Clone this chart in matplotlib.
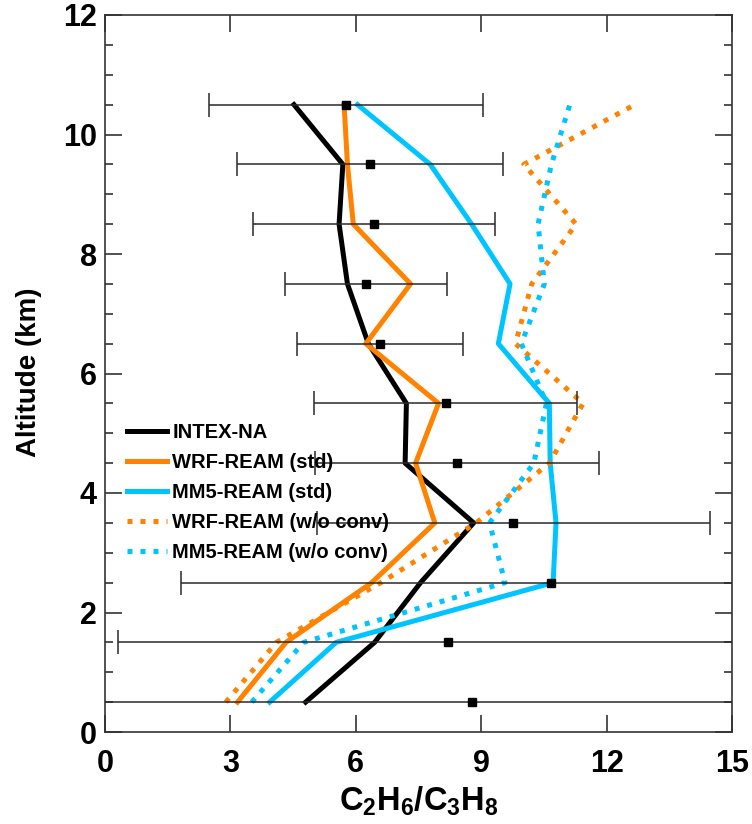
import matplotlib
matplotlib.use("Agg")
import matplotlib.pyplot as plt
from matplotlib.ticker import MultipleLocator

plt.rcParams["font.family"] = ["Liberation Sans", "DejaVu Sans"]
plt.rcParams["font.weight"] = "bold"
plt.rcParams["mathtext.fontset"] = "custom"
plt.rcParams["mathtext.rm"] = "Liberation Sans:bold"
plt.rcParams["mathtext.it"] = "Liberation Sans:bold"
plt.rcParams["mathtext.bf"] = "Liberation Sans:bold"

# altitude bins (km)
altitude = [0.5, 1.5, 2.5, 3.5, 4.5, 5.5, 6.5, 7.5, 8.5, 9.5, 10.5]

# C2H6/C3H8 ratio profiles
intex_na = [4.80, 6.45, 7.55, 8.82, 7.18, 7.21, 6.30, 5.80, 5.60, 5.69, 4.52]
wrf_std = [3.17, 4.33, 6.38, 7.89, 7.43, 7.98, 6.24, 7.31, 5.94, 5.80, 5.72]
mm5_std = [3.94, 5.53, 10.72, 10.79, 10.65, 10.63, 9.41, 9.69, 8.77, 7.78, 6.04]
wrf_noconv = [2.89, 4.10, 6.60, 8.88, 10.63, 11.44, 9.82, 10.21, 11.27, 10.02, 12.68]
mm5_noconv = [3.51, 4.75, 9.57, 9.20, 10.26, 10.56, 9.96, 10.51, 10.36, 10.68, 11.12]

# observed means with spread
obs_mean = [8.79, 8.21, 10.67, 9.77, 8.42, 8.15, 6.58, 6.24, 6.44, 6.34, 5.77]
obs_err = [9.50, 7.90, 8.84, 4.70, 3.40, 3.15, 1.99, 1.93, 2.90, 3.19, 3.28]

ORANGE = "#ff8200"
CYAN = "#00c4ff"
LW = 3.6
DOT = (0, (1, 1.6))

fig = plt.figure(figsize=(7.52, 8.24), dpi=100)
ax = fig.add_axes([105 / 752, 92 / 824, 627 / 752, 717 / 824])

ax.plot(intex_na, altitude, color="black", lw=LW, label="INTEX-NA", zorder=4)
ax.plot(wrf_std, altitude, color=ORANGE, lw=LW, label="WRF-REAM (std)", zorder=4)
ax.plot(mm5_std, altitude, color=CYAN, lw=LW, label="MM5-REAM (std)", zorder=4)
ax.plot(wrf_noconv, altitude, color=ORANGE, lw=LW, ls=DOT, dash_capstyle="butt",
        label="WRF-REAM (w/o conv)", zorder=4)
ax.plot(mm5_noconv, altitude, color=CYAN, lw=LW, ls=DOT, dash_capstyle="butt",
        label="MM5-REAM (w/o conv)", zorder=4)

ax.errorbar(obs_mean, altitude, xerr=obs_err, fmt="s", color="black", ms=6,
            ecolor="#2a2a2a", elinewidth=1.1, capsize=8.6, capthick=1.1, zorder=5)

ax.set_xlim(0, 15)
ax.set_ylim(0, 12)
ax.xaxis.set_major_locator(MultipleLocator(3))
ax.yaxis.set_major_locator(MultipleLocator(2))
ax.yaxis.set_minor_locator(MultipleLocator(0.5))
ax.tick_params(which="both", direction="in", top=True, right=True,
               color="#333333", width=1.2, labelsize=22)
ax.tick_params(which="major", length=12)
ax.tick_params(which="minor", length=6)
ax.tick_params(axis="x", pad=12)
ax.tick_params(axis="y", pad=6)
for s in ax.spines.values():
    s.set_color("#333333")
    s.set_linewidth(1.2)

ax.set_ylabel("Altitude (km)", fontsize=20, fontweight="bold")
ax.yaxis.set_label_coords(-0.1005, 0.502)
ax.set_xlabel(r"$\mathrm{C_2H_6/C_3H_8}$", fontsize=23.5)
ax.xaxis.set_label_coords(0.5008, -0.073)

leg = ax.legend(loc="upper left", bbox_to_anchor=(0.0351, 0.431), frameon=False,
                fontsize=14.5, handlelength=2.0, handletextpad=0.25,
                labelspacing=0.55, borderpad=0, borderaxespad=0)
leg.set_zorder(6)

fig.savefig("out.png", dpi=100)
